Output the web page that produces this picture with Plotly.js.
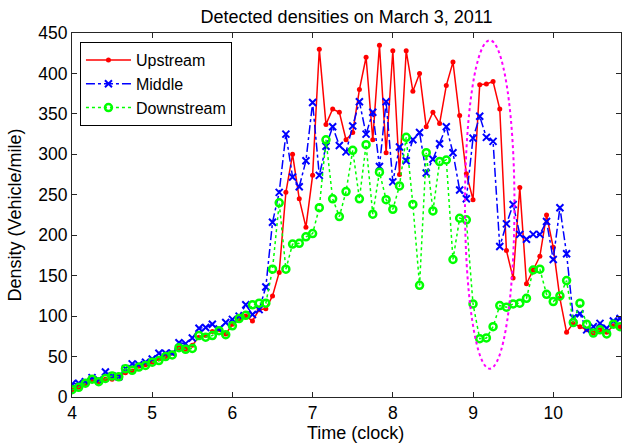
<!DOCTYPE html>
<html>
<head>
<meta charset="utf-8">
<script src="https://cdn.plot.ly/plotly-3.0.1.min.js"></script>
<style>
  html, body { margin: 0; padding: 0; background: #ffffff; }
  #chart { width: 622px; height: 446px; }
</style>
</head>
<body>
<div id="chart"></div>
<script>
// Sample times (5-minute detector intervals), clock time
const timeLabels = [
  "4:00","4:05","4:10","4:15","4:20","4:25","4:30","4:35","4:40","4:45","4:50","4:55",
  "5:00","5:05","5:10","5:15","5:20","5:25","5:30","5:35","5:40","5:45","5:50","5:55",
  "6:00","6:05","6:10","6:15","6:20","6:25","6:30","6:35","6:40","6:45","6:50","6:55",
  "7:00","7:05","7:10","7:15","7:20","7:25","7:30","7:35","7:40","7:45","7:50","7:55",
  "8:00","8:05","8:10","8:15","8:20","8:25","8:30","8:35","8:40","8:45","8:50","8:55",
  "9:00","9:05","9:10","9:15","9:20","9:25","9:30","9:35","9:40","9:45","9:50","9:55",
  "10:00","10:05","10:10","10:15","10:20","10:25","10:30","10:35","10:40","10:45","10:50"
];

// Densities (vehicle/mile)
const upstream = [
  9, 12, 16, 21, 19, 22, 22, 26, 30, 32, 38, 40, 43,
  47, 50, 54, 61, 59, 64, 74, 76, 81, 83, 78, 90,
  95, 100, 94, 108, 109, 125, 154, 253, 300, 245, 210, 274,
  430, 337, 356, 352, 318, 327, 380, 420, 318, 435, 302, 428,
  275, 428, 378, 400, 334, 352, 338, 385, 414, 348, 276, 244,
  386, 387, 390, 356, 181, 147, 259, 140, 157, 174, 225, 185,
  122, 80, 91, 87, 83, 79, 83, 80, 88, 87
];
const middle = [
  16, 17, 19, 24, 21, 31, 26, 25, 35, 41, 40, 43, 47,
  54, 54, 54, 67, 66, 73, 85, 86, 90, 84, 92, 96,
  100, 114, 102, 108, 136, 216, 253, 325, 272, 260, 292, 364,
  274, 310, 334, 311, 303, 335, 365, 325, 352, 285, 365, 266,
  309, 292, 318, 327, 277, 294, 313, 334, 302, 256, 245, 320,
  347, 321, 316, 186, 214, 238, 201, 195, 201, 201, 217, 170,
  234, 177, 98, 103, 83, 87, 91, 85, 94, 97
];
const downstream = [
  9, 12, 17, 22, 19, 23, 26, 25, 35, 33, 37, 39, 43,
  45, 50, 52, 61, 59, 60, 76, 74, 76, 82, 77, 88,
  97, 101, 114, 116, 116, 158, 240, 158, 189, 190, 198, 202,
  234, 318, 245, 223, 254, 305, 245, 312, 226, 278, 244, 232,
  261, 321, 238, 138, 302, 230, 291, 293, 170, 221, 219, 115,
  72, 73, 87, 113, 111, 115, 116, 122, 157, 158, 127, 118,
  125, 144, 92, 116, 90, 79, 83, 78, 90, 87
];

const xTickVals = [4, 5, 6, 7, 8, 9, 10];
const xTickText = ["4", "5", "6", "7", "8", "9", "10"];
const yTickVals = [0, 50, 100, 150, 200, 250, 300, 350, 400, 450];

// Highlighted incident region (ellipse) in data units
const ellipseTime = ["8:54", "9:31"];
const ellipseDensity = [35, 441];

function toHours(s) {
  const p = s.split(":");
  return Number(p[0]) + Number(p[1]) / 60;
}
const hours = timeLabels.map(toHours);

const FONT = "Liberation Sans, Arial, Helvetica, sans-serif";

const traces = [
  {
    x: hours, y: upstream, name: "Upstream", type: "scatter", mode: "lines+markers",
    line: { color: "#ff0000", width: 1.5 },
    marker: { symbol: "circle", size: 5, color: "#ff0000" }
  },
  {
    x: hours, y: middle, name: "Middle", type: "scatter", mode: "lines+markers",
    line: { color: "#0000ff", width: 1.5, dash: "dashdot" },
    marker: { symbol: "x-thin-open", size: 7, color: "#0000ff", line: { color: "#0000ff", width: 2 } }
  },
  {
    x: hours, y: downstream, name: "Downstream", type: "scatter", mode: "lines+markers",
    line: { color: "#00ff00", width: 1.5, dash: "dot" },
    marker: { symbol: "circle-open", size: 7, color: "#00ff00", line: { color: "#00ff00", width: 2.5 } }
  }
];

const layout = {
  width: 622, height: 446,
  margin: { l: 72, r: 1, t: 33, b: 49 },
  paper_bgcolor: "#ffffff", plot_bgcolor: "#ffffff",
  font: { family: FONT, size: 17, color: "#000000" },
  title: {
    text: "Detected densities on March 3, 2011",
    font: { family: FONT, size: 18, color: "#000000" },
    x: 0.5, xref: "paper", y: 0.962, yref: "container", yanchor: "middle"
  },
  xaxis: {
    range: [4, 10.845],
    tickvals: xTickVals, ticktext: xTickText,
    ticks: "inside", ticklen: 5, tickwidth: 1, tickcolor: "#262626",
    showline: true, linecolor: "#262626", linewidth: 1, mirror: "ticks",
    showgrid: false, zeroline: false,
    tickfont: { family: FONT, size: 17.5, color: "#000000" }
  },
  yaxis: {
    range: [0, 450],
    tickvals: yTickVals,
    ticks: "inside", ticklen: 5, tickwidth: 1, tickcolor: "#262626",
    showline: true, linecolor: "#262626", linewidth: 1, mirror: "ticks",
    showgrid: false, zeroline: false,
    tickfont: { family: FONT, size: 17.5, color: "#000000" },
    title: { text: "Density (Vehicle/mile)", font: { family: FONT, size: 18, color: "#000000" }, standoff: 11 }
  },
  annotations: [
    {
      text: "Time (clock)", showarrow: false,
      xref: "paper", yref: "paper", x: 0.517, y: -0.099,
      xanchor: "center", yanchor: "middle",
      font: { family: FONT, size: 18, color: "#000000" }
    }
  ],
  legend: {
    x: 0.0145, y: 0.975, xanchor: "left", yanchor: "top",
    bgcolor: "#ffffff", bordercolor: "#000000", borderwidth: 1,
    font: { family: FONT, size: 16, color: "#000000" },
    itemwidth: 45,
    tracegroupgap: 0
  },
  shapes: [
    {
      type: "circle", xref: "x", yref: "y",
      x0: toHours(ellipseTime[0]), x1: toHours(ellipseTime[1]),
      y0: ellipseDensity[0], y1: ellipseDensity[1],
      line: { color: "#ff00ff", width: 2, dash: "dot" }
    }
  ],
  showlegend: true
};

Plotly.newPlot("chart", traces, layout, { displayModeBar: false, staticPlot: true });
</script>
</body>
</html>
